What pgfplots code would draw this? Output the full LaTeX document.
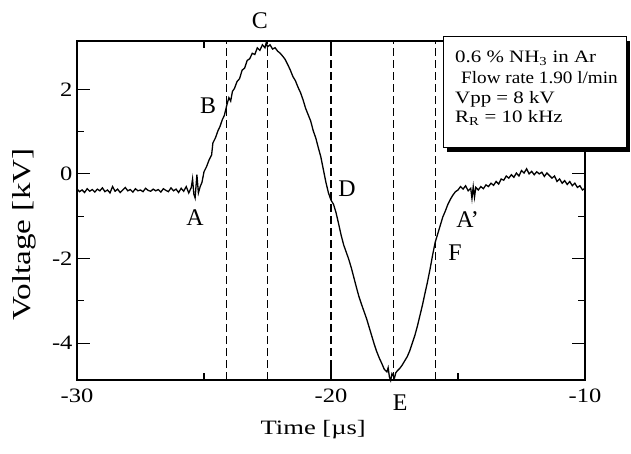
\documentclass[border=0pt]{standalone}
\usepackage{fontspec}
\setmainfont{Liberation Serif}
\newfontfamily\tickfont{Liberation Serif}[FakeStretch=1.2]
\newfontfamily\xlabfont{Liberation Serif}[FakeStretch=1.3]
\newfontfamily\ylabfont{Liberation Serif}[FakeStretch=1.28]
\newfontfamily\boxfont{Liberation Serif}[FakeStretch=1.2]
\newfontfamily\boxfontb{Liberation Serif}[FakeStretch=1.1]
\usepackage{pgfplots}
\pgfplotsset{compat=1.18}
\begin{document}
\begin{tikzpicture}
\path[use as bounding box] (-77bp,-74bp) rectangle (554bp,380bp);
\begin{axis}[
  at={(0,0)}, anchor=south west,
  scale only axis, width=508bp, height=339bp,
  xmin=-30, xmax=-10, ymin=-4.87, ymax=3.14,
  xtick={-30,-20,-10}, xticklabels={-30,-20,-10},
  minor xtick={-25,-15},
  ytick={-4,-2,0,2}, yticklabels={-4,-2,0,2},
  minor ytick={-3,-1,1},
  tick align=inside,
  major tick length=13bp, minor tick length=7bp,
  every tick/.style={black, line width=1.1bp},
  axis line style={line width=1.6bp},
  ticklabel style={font=\tickfont\fontsize{20.5}{24}\selectfont},
  xticklabel style={yshift=-5bp},
  yticklabel style={xshift=-1bp},
  xlabel={Time [µs]}, ylabel={Voltage [kV]},
  xlabel style={font=\xlabfont\fontsize{20.5}{24}\selectfont, at={(axis description cs:0.465,-0.1475)}, anchor=center},
  ylabel style={font=\ylabfont\fontsize{26}{30}\selectfont, at={(axis description cs:-0.104,0.43)}, anchor=center},
  clip=false,
]
% dashed markers
\addplot[black, line width=1.1bp, dash pattern=on 8bp off 4bp] coordinates {(-24.1,-4.87) (-24.1,3.14)};
\addplot[black, line width=1.1bp, dash pattern=on 8bp off 4bp] coordinates {(-22.5,-4.87) (-22.5,3.14)};
\addplot[black, line width=1.1bp, dash pattern=on 8bp off 4bp] coordinates {(-20.0,-4.87) (-20.0,3.14)};
\addplot[black, line width=1.1bp, dash pattern=on 8bp off 4bp] coordinates {(-17.55,-4.87) (-17.55,3.14)};
\addplot[black, line width=1.1bp, dash pattern=on 8bp off 4bp] coordinates {(-15.9,-4.87) (-15.9,3.14)};
% voltage trace
\addplot[black, line width=1.3bp] coordinates {
(-30.0,-0.36) (-29.9,-0.42) (-29.8,-0.38) (-29.7,-0.44) (-29.6,-0.35) (-29.5,-0.41)
(-29.4,-0.37) (-29.3,-0.43) (-29.2,-0.36) (-29.1,-0.40) (-29.0,-0.33) (-28.9,-0.42)
(-28.8,-0.38) (-28.7,-0.45) (-28.6,-0.30) (-28.5,-0.41) (-28.4,-0.36) (-28.3,-0.44)
(-28.2,-0.38) (-28.1,-0.32) (-28.0,-0.40) (-27.9,-0.37) (-27.8,-0.43) (-27.7,-0.35)
(-27.6,-0.40) (-27.5,-0.38) (-27.4,-0.42) (-27.3,-0.34) (-27.2,-0.39) (-27.1,-0.41)
(-27.0,-0.36) (-26.9,-0.40) (-26.8,-0.37) (-26.7,-0.43) (-26.6,-0.35) (-26.5,-0.39)
(-26.4,-0.42) (-26.3,-0.33) (-26.2,-0.40) (-26.1,-0.36) (-26.0,-0.44) (-25.9,-0.34)
(-25.8,-0.41) (-25.7,-0.30) (-25.6,-0.45) (-25.5,-0.32) (-25.45,-0.12) (-25.4,-0.48)
(-25.35,-0.57) (-25.28,-0.02) (-25.22,-0.45) (-25.15,-0.30) (-25.08,-0.20)
(-25.0,0.05) (-24.9,0.17) (-24.8,0.33) (-24.7,0.45) (-24.65,0.73) (-24.55,0.85)
(-24.45,1.02) (-24.37,1.12) (-24.28,1.28) (-24.2,1.38) (-24.1,1.63) (-24.02,1.80)
(-23.95,1.72) (-23.88,1.95) (-23.8,2.02) (-23.7,2.18) (-23.6,2.25) (-23.5,2.45)
(-23.4,2.50) (-23.3,2.68) (-23.2,2.72) (-23.1,2.85) (-23.0,2.82) (-22.9,2.98)
(-22.8,2.92) (-22.7,3.05) (-22.6,2.98) (-22.55,3.10) (-22.5,3.00) (-22.4,3.05)
(-22.3,2.95) (-22.2,2.98) (-22.1,2.90) (-22.0,2.85) (-21.9,2.78) (-21.8,2.70)
(-21.7,2.58) (-21.6,2.45) (-21.5,2.30) (-21.4,2.20) (-21.3,2.05) (-21.2,1.92)
(-21.1,1.75) (-21.0,1.55) (-20.9,1.40) (-20.8,1.25) (-20.7,1.02) (-20.6,0.85)
(-20.5,0.62) (-20.4,0.40) (-20.3,0.10) (-20.2,-0.20) (-20.1,-0.45) (-20.0,-0.62)
(-19.9,-0.72) (-19.8,-0.92) (-19.7,-1.18) (-19.6,-1.45) (-19.5,-1.68) (-19.4,-1.85)
(-19.3,-2.02) (-19.2,-2.22) (-19.1,-2.45) (-19.0,-2.68) (-18.9,-2.90) (-18.8,-3.08)
(-18.7,-3.25) (-18.6,-3.42) (-18.5,-3.62) (-18.4,-3.82) (-18.3,-4.02) (-18.2,-4.20)
(-18.1,-4.35) (-18.0,-4.48) (-17.9,-4.62) (-17.8,-4.68) (-17.75,-4.58) (-17.7,-4.80)
(-17.65,-4.88) (-17.6,-4.72) (-17.5,-4.82) (-17.45,-4.70) (-17.4,-4.66) (-17.3,-4.60)
(-17.2,-4.52) (-17.1,-4.42) (-17.0,-4.32) (-16.9,-4.18) (-16.8,-4.00) (-16.7,-3.82)
(-16.6,-3.60) (-16.5,-3.35) (-16.4,-3.10) (-16.3,-2.82) (-16.2,-2.55) (-16.1,-2.25)
(-16.0,-1.92) (-15.9,-1.62) (-15.8,-1.42) (-15.7,-1.22) (-15.6,-1.02) (-15.5,-0.88)
(-15.4,-0.72) (-15.3,-0.60) (-15.2,-0.50) (-15.1,-0.42) (-15.0,-0.38) (-14.9,-0.30)
(-14.8,-0.36) (-14.7,-0.28) (-14.6,-0.40) (-14.5,-0.34) (-14.45,-0.58) (-14.4,-0.30)
(-14.35,-0.55) (-14.3,-0.32) (-14.2,-0.38) (-14.1,-0.30) (-14.0,-0.35) (-13.9,-0.26)
(-13.8,-0.30) (-13.7,-0.22) (-13.6,-0.27) (-13.5,-0.18) (-13.4,-0.24) (-13.3,-0.12)
(-13.2,-0.15) (-13.1,-0.05) (-13.0,-0.10) (-12.9,-0.02) (-12.8,-0.08) (-12.7,0.02)
(-12.6,-0.05) (-12.5,0.08) (-12.4,0.02) (-12.3,0.12) (-12.2,0.00) (-12.1,0.06)
(-12.0,-0.02) (-11.9,0.05) (-11.8,0.00) (-11.7,0.04) (-11.6,-0.06) (-11.5,0.02)
(-11.4,-0.04) (-11.3,-0.10) (-11.2,-0.05) (-11.1,-0.18) (-11.0,-0.12) (-10.9,-0.22)
(-10.8,-0.16) (-10.7,-0.25) (-10.6,-0.18) (-10.5,-0.28) (-10.4,-0.22) (-10.3,-0.32)
(-10.2,-0.28) (-10.1,-0.38) (-10.0,-0.34)
};
% point labels
\begin{scope}[every node/.style={font=\fontsize{24}{28}\selectfont, inner sep=0pt, anchor=center}]
\node at (axis cs:-25.35,-1.04) {A};
\node at (axis cs:-24.84,1.60) {B};
\node at (axis cs:-22.80,3.62) {C};
\node at (axis cs:-19.37,-0.36) {D};
\node at (axis cs:-17.28,-5.40) {E};
\node at (axis cs:-15.12,-1.87) {F};
\node at (axis cs:-14.62,-1.09) {A'};
\end{scope}
\end{axis}
% info box (coordinates: bp from axis lower-left corner)
\fill[black] (370bp,228bp) rectangle (553bp,339bp);
\draw[fill=white, line width=1bp] (366bp,232bp) rectangle (549bp,343bp);
\begin{scope}[every node/.style={font=\boxfont\fontsize{17.5}{20}\selectfont, inner sep=0pt, anchor=base west}]
\node at (378bp,317bp) {0.6 \% NH\textsubscript{3} in Ar};
\node[font=\boxfontb\fontsize{17.5}{20}\selectfont] at (384bp,296bp) {Flow rate 1.90 l/min};
\node at (378bp,276bp) {Vpp = 8 kV};
\node at (378bp,257bp) {R\textsubscript{R} = 10 kHz};
\end{scope}
\end{tikzpicture}
\end{document}
